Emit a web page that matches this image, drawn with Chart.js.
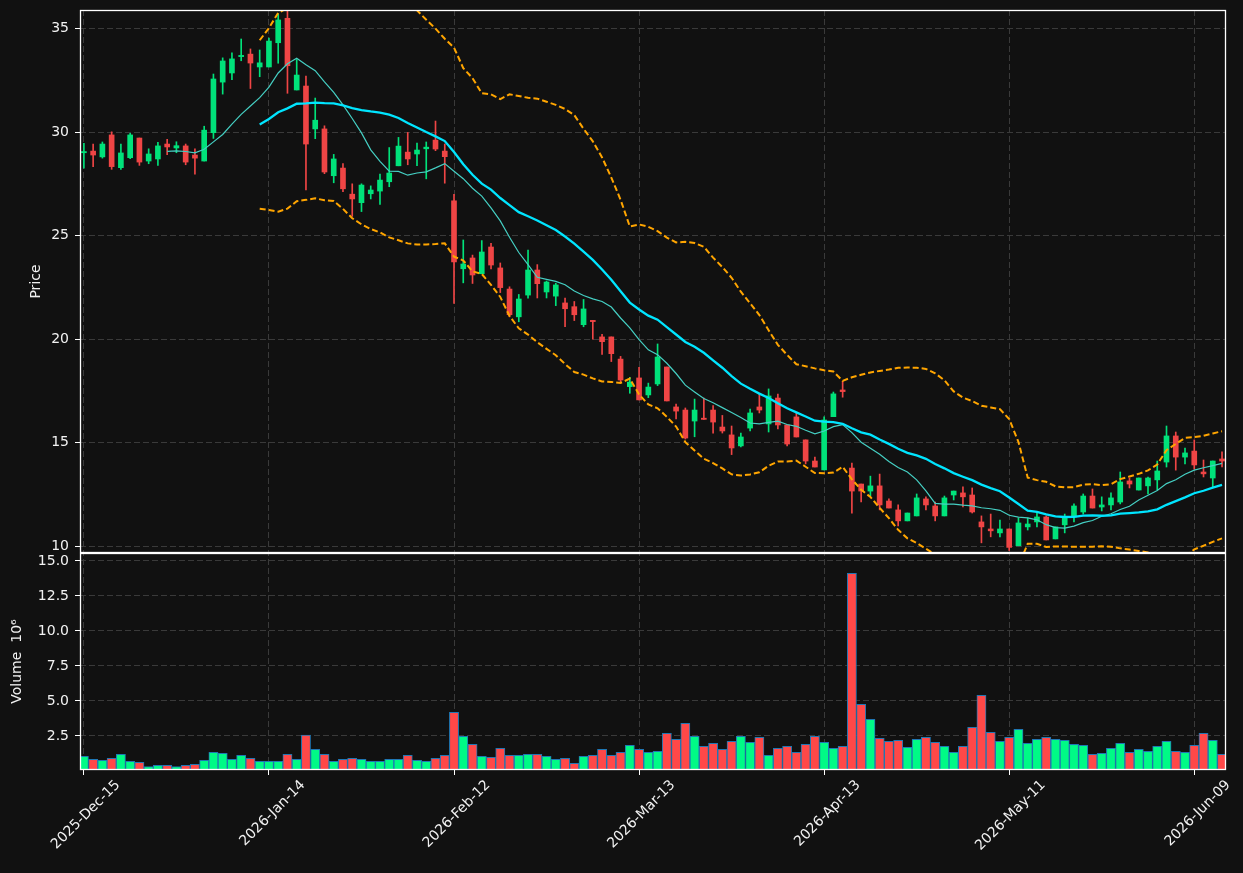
<!DOCTYPE html>
<html>
<head>
<meta charset="utf-8">
<script src="https://cdn.jsdelivr.net/npm/chart.js@4.4.1/dist/chart.umd.min.js"></script>
<style>
html,body{margin:0;padding:0;background:#111111;}
#wrap{width:1243px;height:873px;position:relative;}
canvas{display:block;}
</style>
</head>
<body>
<div id="wrap"><canvas id="c" width="1243" height="873"></canvas></div>
<script>
// ---- data ----
const tickIndex = [0, 20, 40, 60, 80, 100, 120];
const tickLabels = ['2025-Dec-15', '2026-Jan-14', '2026-Feb-12', '2026-Mar-13', '2026-Apr-13', '2026-May-11', '2026-Jun-09'];

const opens = [
  29.00, 29.08, 28.80, 29.86, 28.28, 28.76, 29.71, 28.60, 28.70, 29.42,
  29.23, 29.33, 28.89, 28.60, 29.97, 32.41, 32.85, 33.64, 33.76, 33.14,
  33.14, 34.31, 35.49, 32.03, 32.22, 30.15, 30.15, 27.89, 28.26, 27.00,
  26.59, 27.02, 27.15, 27.60, 28.37, 29.03, 28.94, 29.19, 29.61, 29.08,
  26.68, 23.40, 23.92, 23.16, 24.45, 23.44, 22.42, 21.08, 22.13, 23.34,
  22.28, 22.08, 21.75, 21.57, 20.70, 20.88, 20.11, 20.11, 19.04, 17.71,
  18.13, 17.31, 17.84, 18.66, 16.73, 16.58, 16.05, 16.17, 16.58, 15.76,
  15.38, 14.85, 15.71, 16.73, 15.91, 17.16, 15.86, 16.25, 15.14, 14.12,
  13.69, 16.26, 17.55, 13.78, 13.01, 12.67, 12.92, 12.19, 11.76, 11.23,
  11.47, 12.29, 11.95, 11.47, 12.48, 12.58, 12.48, 11.18, 10.84, 10.65,
  10.84, 10.03, 10.94, 11.18, 11.42, 10.36, 11.04, 11.42, 11.66, 12.43,
  11.90, 12.00, 12.14, 13.16, 12.72, 12.92, 13.21, 14.07, 15.33, 14.31,
  14.60, 13.59, 13.30, 14.22
];
const highs = [
  29.45, 29.42, 29.52, 30.01, 29.42, 29.94, 29.71, 29.19, 29.50, 29.65,
  29.53, 29.42, 29.19, 30.28, 32.80, 33.58, 33.82, 34.49, 34.01, 33.96,
  34.54, 35.70, 35.83, 33.50, 32.70, 31.64, 30.30, 28.92, 28.48, 27.50,
  27.50, 27.40, 27.97, 29.25, 29.74, 29.98, 29.47, 29.52, 30.53, 29.42,
  26.99, 24.79, 24.06, 24.76, 24.63, 23.68, 22.53, 22.16, 24.30, 23.60,
  22.81, 22.70, 21.98, 21.82, 21.92, 20.90, 20.24, 20.11, 19.17, 18.16,
  18.64, 17.88, 19.77, 18.66, 16.87, 16.68, 17.11, 17.16, 16.80, 16.32,
  15.81, 15.47, 16.63, 17.37, 17.60, 17.35, 15.86, 16.44, 15.14, 14.31,
  16.25, 17.45, 17.97, 14.02, 13.01, 13.39, 13.49, 12.29, 12.00, 11.61,
  12.53, 12.39, 12.14, 12.43, 12.67, 12.87, 12.82, 11.47, 11.56, 11.27,
  10.84, 11.37, 11.37, 11.66, 11.47, 10.94, 11.56, 12.05, 12.53, 12.77,
  12.39, 12.58, 13.59, 13.30, 13.30, 13.35, 14.12, 15.81, 15.52, 14.75,
  15.14, 14.17, 14.12, 14.56
];
const lows = [
  28.25, 28.33, 28.74, 28.20, 28.20, 28.71, 28.39, 28.47, 28.39, 28.91,
  29.00, 28.42, 27.97, 28.60, 29.69, 31.83, 32.53, 33.44, 32.10, 32.67,
  33.14, 33.32, 31.87, 32.03, 27.20, 29.68, 27.99, 27.55, 27.12, 25.93,
  26.16, 26.77, 26.50, 27.36, 28.37, 28.42, 28.37, 27.74, 29.10, 27.53,
  21.73, 22.72, 22.69, 23.16, 23.39, 22.25, 21.08, 20.84, 21.98, 21.99,
  21.99, 21.62, 20.60, 20.90, 20.60, 20.00, 19.27, 18.92, 17.90, 17.39,
  17.07, 17.18, 17.76, 17.02, 16.15, 15.18, 15.29, 16.13, 15.47, 15.47,
  14.43, 14.80, 15.57, 16.44, 15.52, 15.67, 14.85, 15.28, 13.98, 13.83,
  13.69, 16.26, 17.20, 11.60, 12.14, 12.43, 11.76, 11.85, 10.99, 11.23,
  11.47, 11.76, 11.23, 11.47, 12.24, 11.90, 11.61, 10.17, 10.46, 10.46,
  9.80, 10.03, 10.79, 10.94, 10.31, 10.36, 10.65, 11.18, 11.56, 11.85,
  11.71, 11.76, 12.05, 12.82, 12.72, 12.53, 12.72, 13.83, 13.68, 13.98,
  13.73, 13.35, 12.87, 13.83
];
const closes = [
  29.05, 28.89, 29.42, 28.33, 28.99, 29.86, 28.55, 28.94, 29.33, 29.28,
  29.34, 28.55, 28.74, 30.09, 32.56, 33.43, 33.53, 33.68, 33.33, 33.34,
  34.39, 35.41, 33.20, 32.75, 29.42, 30.57, 28.07, 28.70, 27.26, 26.77,
  27.44, 27.20, 27.68, 28.02, 29.32, 28.70, 29.13, 29.27, 29.18, 28.81,
  23.73, 23.63, 23.10, 24.21, 23.58, 22.49, 21.18, 21.94, 23.34, 22.68,
  22.76, 22.62, 21.47, 21.18, 21.46, 20.85, 19.88, 19.30, 18.03, 17.93,
  17.07, 17.69, 19.14, 17.02, 16.53, 15.23, 16.58, 16.13, 16.00, 15.57,
  14.75, 15.28, 16.44, 16.58, 17.26, 15.86, 14.94, 15.28, 14.12, 13.83,
  16.10, 17.36, 17.47, 12.67, 12.67, 12.92, 12.00, 11.85, 11.23, 11.61,
  12.34, 12.00, 11.47, 12.34, 12.67, 12.39, 11.66, 10.94, 10.75, 10.84,
  9.95, 11.13, 11.08, 11.42, 10.31, 10.94, 11.42, 11.95, 12.43, 11.85,
  12.00, 12.34, 13.11, 13.01, 13.30, 13.30, 13.64, 15.33, 14.31, 14.51,
  13.93, 13.50, 14.12, 14.12
];
// volume in millions
const volumes = [
  1.05, 0.83, 0.76, 0.90, 1.19, 0.69, 0.62, 0.31, 0.40, 0.40,
  0.31, 0.40, 0.48, 0.76, 1.33, 1.26, 0.83, 1.12, 0.90, 0.69,
  0.69, 0.69, 1.19, 0.83, 2.57, 1.55, 1.19, 0.69, 0.83, 0.90,
  0.83, 0.69, 0.69, 0.83, 0.83, 1.12, 0.76, 0.69, 0.90, 1.12,
  4.19, 2.48, 1.90, 1.05, 0.98, 1.62, 1.12, 1.12, 1.19, 1.19,
  1.05, 0.83, 0.90, 0.55, 1.05, 1.12, 1.55, 1.12, 1.33, 1.83,
  1.55, 1.33, 1.40, 2.69, 2.26, 3.40, 2.48, 1.76, 1.98, 1.55,
  2.12, 2.48, 2.05, 2.40, 1.12, 1.62, 1.76, 1.33, 1.90, 2.48,
  2.05, 1.62, 1.76, 14.12, 4.76, 3.69, 2.33, 2.12, 2.19, 1.69,
  2.26, 2.40, 2.05, 1.76, 1.33, 1.76, 3.12, 5.40, 2.76, 2.12,
  2.40, 2.98, 1.98, 2.26, 2.40, 2.26, 2.19, 1.90, 1.83, 1.19,
  1.26, 1.62, 1.98, 1.33, 1.55, 1.40, 1.76, 2.12, 1.40, 1.33,
  1.83, 2.69, 2.19, 1.19
];
const maShort = 10;
const maLong = 20;
const bandWidthSigma = 2;

// ---- indicators derived from the closes ----
function sma(arr, n) {
  return arr.map((_, i) => {
    if (i < n - 1) return null;
    let s = 0;
    for (let k = i - n + 1; k <= i; k++) s += arr[k];
    return s / n;
  });
}
function rollingStd(arr, n) {
  return arr.map((_, i) => {
    if (i < n - 1) return null;
    let s = 0;
    for (let k = i - n + 1; k <= i; k++) s += arr[k];
    const m = s / n;
    let v = 0;
    for (let k = i - n + 1; k <= i; k++) v += (arr[k] - m) * (arr[k] - m);
    return Math.sqrt(v / (n - 1));
  });
}
const idx = closes.map((_, i) => i);
const ma10 = sma(closes, maShort);
const ma20 = sma(closes, maLong);
const sd20 = rollingStd(closes, maLong);
const upper = ma20.map((m, i) => m === null ? null : m + bandWidthSigma * sd20[i]);
const lower = ma20.map((m, i) => m === null ? null : m - bandWidthSigma * sd20[i]);
const toPts = arr => idx.filter(i => arr[i] !== null).map(i => ({x: i, y: arr[i]}));

// ---- styling ----
const BG = '#111111';
const UP = '#00e27a';
const DOWN = '#ef4545';
const VUP = '#00fa86';
const VDOWN = '#ff4848';
const TXT = '#f2f2f2';
const GRID = '#3a3a3a';
const FONT = {family: 'DejaVu Sans', size: 14};

const isUp = idx.map(i => closes[i] >= opens[i]);
const candleColors = idx.map(i => isUp[i] ? UP : DOWN);
const volColors = idx.map(i => isUp[i] ? VUP : VDOWN);

const bgPlugin = {
  id: 'bg',
  beforeDraw(chart) {
    const c = chart.ctx;
    c.save();
    c.fillStyle = BG;
    c.fillRect(0, 0, chart.width, chart.height);
    c.restore();
  }
};
const panelClip = {
  id: 'panelClip',
  beforeDatasetDraw(chart, args) {
    const ds = chart.data.datasets[args.index];
    const s = chart.scales[ds.yAxisID || 'y'];
    const a = chart.chartArea;
    const c = chart.ctx;
    c.save();
    c.beginPath();
    c.rect(a.left, s.top, a.right - a.left, s.bottom - s.top);
    c.clip();
  },
  afterDatasetDraw(chart) {
    chart.ctx.restore();
  }
};
const framePlugin = {
  id: 'frame',
  afterDraw(chart) {
    const c = chart.ctx;
    const a = chart.chartArea;
    c.save();
    c.strokeStyle = '#ffffff';
    c.lineWidth = 1.3;
    ['y', 'yv'].forEach(k => {
      const s = chart.scales[k];
      c.strokeRect(a.left + 0.5, s.top + 0.5, a.right - a.left - 1, s.bottom - s.top - 1);
    });
    c.restore();
  }
};

const gridCommon = {
  color: GRID,
  lineWidth: 1,
  drawTicks: true,
  tickLength: 5,
  tickColor: '#ffffff',
  tickWidth: 1,
  offset: false
};
const fitY = s => { s.width = 80; s.paddingTop = 0; s.paddingBottom = 0; };

new Chart(document.getElementById('c'), {
  type: 'bar',
  data: {
    datasets: [
      {
        type: 'line', label: 'MA' + maLong, data: toPts(ma20), yAxisID: 'y',
        borderColor: '#00e5ff', borderWidth: 2.3, pointRadius: 0, tension: 0, order: 0
      },
      {
        type: 'line', label: 'MA' + maShort, data: toPts(ma10), yAxisID: 'y',
        borderColor: '#45cfc3', borderWidth: 1.2, pointRadius: 0, tension: 0, order: 0
      },
      {
        type: 'line', label: 'Upper', data: toPts(upper), yAxisID: 'y',
        borderColor: '#ffa500', borderWidth: 2, borderDash: [6, 3], pointRadius: 0, tension: 0, order: 0
      },
      {
        type: 'line', label: 'Lower', data: toPts(lower), yAxisID: 'y',
        borderColor: '#ffa500', borderWidth: 2, borderDash: [6, 3], pointRadius: 0, tension: 0, order: 0
      },
      {
        label: 'Body', data: idx.map(i => ({x: i, y: [opens[i], closes[i]]})), yAxisID: 'y',
        backgroundColor: candleColors, borderWidth: 0, barThickness: 5, minBarLength: 1.2,
        grouped: false, order: 1
      },
      {
        label: 'Wick', data: idx.map(i => ({x: i, y: [lows[i], highs[i]]})), yAxisID: 'y',
        backgroundColor: candleColors, borderWidth: 0, barThickness: 1, grouped: false, order: 2
      },
      {
        label: 'Volume', data: idx.map(i => ({x: i, y: volumes[i]})), yAxisID: 'yv',
        backgroundColor: volColors, borderColor: '#1f77b4', borderWidth: 1, borderSkipped: 'start',
        barThickness: 9.2, grouped: false, order: 3
      }
    ]
  },
  options: {
    responsive: false,
    devicePixelRatio: 1,
    animation: false,
    events: [],
    layout: {padding: {left: 0, top: 10, right: 17, bottom: 0}},
    plugins: {legend: {display: false}, tooltip: {enabled: false}, title: {display: false}},
    scales: {
      x: {
        type: 'linear', position: 'bottom', min: -0.42, max: 123.43, offset: false,
        grid: gridCommon,
        border: {display: false, dash: [6, 3]},
        afterBuildTicks: s => { s.ticks = tickIndex.map(v => ({value: v})); },
        afterFit: s => { s.height = 103; s.paddingLeft = 0; s.paddingRight = 0; },
        ticks: {
          color: TXT, font: FONT, autoSkip: false, minRotation: 45, maxRotation: 45,
          labelOffset: 34, padding: 2,
          callback: v => { const k = tickIndex.indexOf(v); return k >= 0 ? tickLabels[k] : ''; }
        }
      },
      yv: {
        type: 'linear', position: 'left', stack: 'panels', stackWeight: 217,
        min: 0.07, max: 15.57, offset: false, beginAtZero: false,
        grid: gridCommon,
        border: {display: false, dash: [6, 3]},
        afterFit: fitY,
        ticks: {color: TXT, font: FONT, stepSize: 2.5, includeBounds: false, padding: 6,
          callback: v => v.toFixed(1)},
        title: {display: true, text: 'Volume  10\u2076', color: TXT, font: FONT, padding: {top: 9, bottom: 0}}
      },
      y: {
        type: 'linear', position: 'left', stack: 'panels', stackWeight: 543,
        min: 9.68, max: 35.89, offset: false,
        grid: gridCommon,
        border: {display: false, dash: [6, 3]},
        afterFit: fitY,
        ticks: {color: TXT, font: FONT, stepSize: 5, includeBounds: false, padding: 6},
        title: {display: true, text: 'Price', color: TXT, font: FONT, padding: {top: 28, bottom: 0}}
      }
    }
  },
  plugins: [bgPlugin, panelClip, framePlugin]
});
</script>
</body>
</html>
